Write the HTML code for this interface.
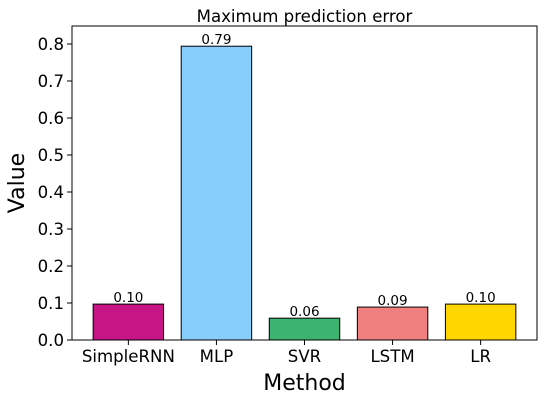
<!DOCTYPE html>
<html><head><meta charset="utf-8"><style>
body{margin:0;background:#fff;}
svg{display:block;font-family:"DejaVu Sans","Liberation Sans",sans-serif;}
</style></head><body>
<svg id="chart" width="546" height="403"></svg>
<script>
const categories=["SimpleRNN","MLP","SVR","LSTM","LR"];
const values=[0.097,0.794,0.059,0.089,0.097];
const labels=["0.10","0.79","0.06","0.09","0.10"];
const colors=["#c71585","#87cefa","#3cb371","#f08080","#ffd700"];
const yTicks=[0,0.1,0.2,0.3,0.4,0.5,0.6,0.7,0.8];
const yTickLabels=["0.0","0.1","0.2","0.3","0.4","0.5","0.6","0.7","0.8"];

const NS="http://www.w3.org/2000/svg";
const svg=document.getElementById('chart');
const L=72,R=537,T=26,B=340,yMax=0.8486;
const y=v=>B-(v/yMax)*(B-T);
const step=(R-L)/(categories.length+0.28);
const x=i=>L+step*0.64+i*step;
const bw=step*0.8;
function mk(tag,attrs,txt){const e=document.createElementNS(NS,tag);for(const k in attrs)e.setAttribute(k,attrs[k]);if(txt!==undefined)e.textContent=txt;svg.appendChild(e);return e;}

let t=mk('text',{x:(L+R)/2,y:22,'text-anchor':'middle','font-size':16.6,fill:'#000'},'Maximum prediction error');



categories.forEach((c,i)=>{
  const r=mk('rect',{x:x(i)-bw/2,y:y(values[i]),width:bw,height:B-y(values[i]),fill:colors[i],stroke:'#000','stroke-width':1});
  
  
  const v=mk('text',{x:x(i),y:y(values[i])-2,'text-anchor':'middle','font-size':13.5,fill:'#000'},labels[i]);
  
  
  mk('line',{x1:x(i),x2:x(i),y1:B,y2:B+5,stroke:'#000'});
  const xl=mk('text',{x:x(i),y:B+22,'text-anchor':'middle','font-size':16.6,fill:'#000'},c);
  
  
});
yTicks.forEach((v,i)=>{
  mk('line',{x1:L-5,x2:L,y1:y(v),y2:y(v),stroke:'#000'});
  const yl=mk('text',{x:L-8,y:y(v)+6,'text-anchor':'end','font-size':16.6,fill:'#000'},yTickLabels[i]);
  
  
});
const ax=mk('rect',{x:L,y:T,width:R-L,height:B-T,fill:'none',stroke:'#000','stroke-width':1});


const xt=mk('text',{x:(L+R)/2,y:390,'text-anchor':'middle','font-size':22,fill:'#000'},'Method');


const yt=mk('text',{x:0,y:0,'text-anchor':'middle','font-size':22,fill:'#000',transform:`translate(24,${(T+B)/2}) rotate(-90)`},'Value');


</script>
</body></html>
